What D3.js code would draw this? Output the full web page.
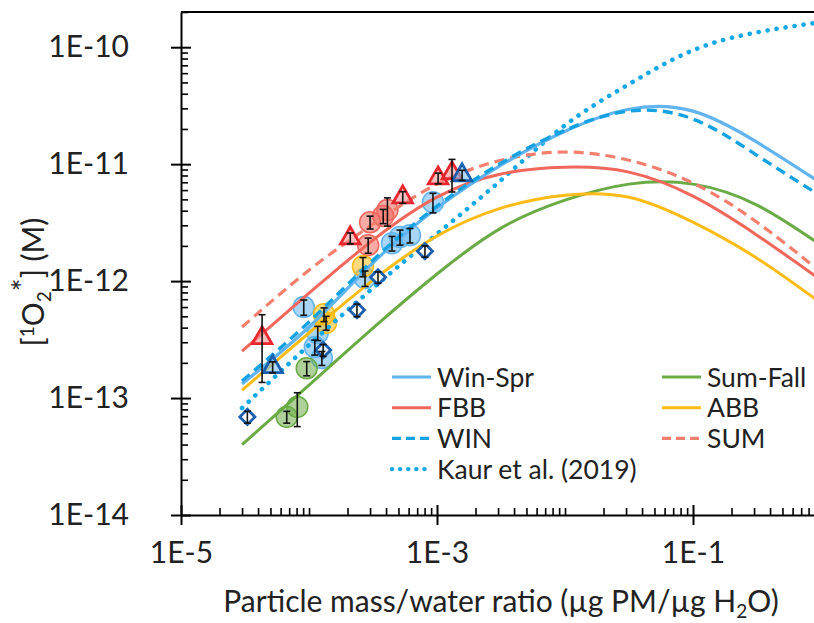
<!DOCTYPE html>
<html>
<head>
<meta charset="utf-8">
<script src="https://cdn.jsdelivr.net/npm/d3@7"></script>
<style>
  html, body { margin: 0; padding: 0; background: #fff; }
  svg { display: block; font-family: Lato, "Open Sans", sans-serif; }
</style>
</head>
<body>
<svg id="chart" width="814" height="623"></svg>
<script>
// Model curves: [1O2*] vs particle mass / water ratio (half-decade grid)
const curveX   = [3e-5, 1e-4, 3.16e-4, 1e-3, 3.16e-3, 1e-2, 3.16e-2, 1e-1, 3.16e-1, 1];
const winSprLine  = [1.32e-13, 4.05e-13, 1.43e-12, 4.21e-12, 9.8e-12, 1.91e-11, 2.95e-11, 2.84e-11, 1.54e-11, 6.89e-12];
const sumFallLine = [4.0e-14, 1.29e-13, 3.96e-13, 1.15e-12, 2.84e-12, 4.92e-12, 6.75e-12, 6.75e-12, 4.47e-12, 2.03e-12];
const fbbLine     = [2.52e-13, 7.88e-13, 2.24e-12, 5.22e-12, 8.23e-12, 9.42e-12, 8.55e-12, 5.32e-12, 2.47e-12, 1.02e-12];
const abbLine     = [1.17e-13, 3.60e-13, 1.02e-12, 2.43e-12, 4.21e-12, 5.43e-12, 5.22e-12, 3.19e-12, 1.57e-12, 6.49e-13];
const winLine     = [1.40e-13, 4.47e-13, 1.51e-12, 4.38e-12, 1.02e-11, 1.95e-11, 2.84e-11, 2.43e-11, 1.19e-11, 5.32e-12];
const sumLine     = [4.05e-13, 1.24e-12, 3.07e-12, 6.75e-12, 1.08e-11, 1.27e-11, 1.08e-11, 6.89e-12, 3.19e-12, 1.19e-12];
const kaurLine    = [8.22e-14, 2.84e-13, 8.71e-13, 2.53e-12, 7.29e-12, 2.15e-11, 4.83e-11, 9.42e-11, 1.34e-10, 1.64e-10];

// Measured samples (mean and standard deviation)
const winSprX  = [9.1e-5, 1.17e-4, 1.11e-4, 1.26e-4, 2.74e-4, 4.45e-4, 5.14e-4, 6.15e-4, 9.3e-4];
const winSprY  = [6.0e-13, 3.6e-13, 2.73e-13, 2.2e-13, 1.06e-12, 2.11e-12, 2.38e-12, 2.47e-12, 4.73e-12];
const winSprSd = [0.9e-13, 0.5e-13, 0.4e-13, 0.3e-13, 1.6e-13, 0.3e-12, 0.35e-12, 0.35e-12, 0.9e-12];

const sumFallX  = [9.6e-5, 6.7e-5, 8.1e-5];
const sumFallY  = [1.8e-13, 6.9e-14, 8.4e-14];
const sumFallSd = [0.25e-13, 0.8e-14, 2.7e-14];

const fbbX  = [3.0e-4, 3.8e-4, 4.1e-4, 2.9e-4];
const fbbY  = [3.19e-12, 3.6e-12, 4.05e-12, 2.03e-12];
const fbbSd = [0.4e-12, 0.5e-12, 1.1e-12, 0.3e-12];

const abbX  = [1.31e-4, 1.36e-4, 2.64e-4];
const abbY  = [5.2e-13, 4.4e-13, 1.34e-12];
const abbSd = [0.7e-13, 0.6e-13, 0.25e-12];

const sumX  = [4.3e-5, 2.1e-4, 5.4e-4, 1.02e-3, 1.31e-3];
const sumY  = [3.26e-13, 2.33e-12, 5.22e-12, 7.58e-12, 8.38e-12];
const sumSd = [1.9e-13, 0.25e-12, 0.6e-12, 0.8e-12, 2.6e-12];

const winX  = [5.2e-5, 1.57e-3];
const winY  = [1.84e-13, 8.06e-12];
const winSd = [0.2e-13, 0.8e-12];

const kaurX  = [3.3e-5, 1.29e-4, 2.37e-4, 3.46e-4, 8.05e-4];
const kaurY  = [6.9e-14, 2.57e-13, 5.65e-13, 1.08e-12, 1.8e-12];
const kaurSd = [0.8e-14, 0.3e-13, 0.7e-13, 1.2e-13, 0.2e-12];

// Axis ticks
const xTickValues = [1e-5, 1e-3, 1e-1];
const xTickLabels = ["1E-5", "1E-3", "1E-1"];
const yTickValues = [1e-14, 1e-13, 1e-12, 1e-11, 1e-10];
const yTickLabels = ["1E-14", "1E-13", "1E-12", "1E-11", "1E-10"];

const legendNames = ["Win-Spr", "Sum-Fall", "FBB", "ABB", "WIN", "SUM", "Kaur et al. (2019)"];

(function () {
const C = {
  winSpr: "#62b4ef",
  sumFall: "#6aab45",
  fbb: "#f0675c",
  abb: "#fdbb16",
  win: "#14a2e2",
  sum: "#f37f6e",
  kaur: "#13a8e6",
  red: "#e8262e",
  navy: "#1c5fae"
};
const FONT = "Lato, sans-serif";

const svg = d3.select("#chart");
const pL = 181, pR = 821, pT = 12, pB = 515;

const x = d3.scaleLog().domain([1e-5, 1]).range([pL, pR]);
const y = d3.scaleLog().domain([1e-14, 2e-10]).range([pB, pT]);

svg.append("defs").append("clipPath").attr("id", "plotclip")
  .append("rect").attr("x", pL).attr("y", pT).attr("width", pR - pL).attr("height", pB - pT);

// Frame top edge
svg.append("line").attr("x1", pL).attr("x2", pR).attr("y1", pT).attr("y2", pT)
  .attr("stroke", "#000").attr("stroke-width", 2);

// Minor tick values
const xMinor = [];
for (let e = -5; e < 0; e++) for (let k = 1; k <= 9; k++) {
  const v = k * Math.pow(10, e);
  if (!xTickValues.some(t => Math.abs(t - v) / v < 1e-6)) xMinor.push(v);
}
const yMinor = [];
for (let e = -14; e <= -10; e++) for (let k = 1; k <= 9; k++) {
  const v = k * Math.pow(10, e);
  if (v > 2.0001e-10) continue;
  if (!yTickValues.some(t => Math.abs(t - v) / v < 1e-6)) yMinor.push(v);
}

// X axis
const xAxis = svg.append("g").attr("transform", `translate(0,${pB})`)
  .call(d3.axisBottom(x).tickValues(xTickValues)
    .tickFormat((d, i) => xTickLabels[i]).tickSizeInner(10).tickSizeOuter(0).tickPadding(17));
xAxis.select(".domain").attr("stroke-width", 2);
xAxis.selectAll(".tick line").attr("y1", -10).attr("stroke-width", 2);
xAxis.selectAll(".tick text").attr("font-size", 30).attr("font-family", FONT).attr("fill", "#222");
svg.append("g").attr("transform", `translate(0,${pB})`)
  .call(d3.axisTop(x).tickValues(xMinor).tickFormat("").tickSizeInner(7).tickSizeOuter(0))
  .call(g => g.select(".domain").remove())
  .selectAll(".tick line").attr("stroke-width", 1.6);

// Y axis
const yAxis = svg.append("g").attr("transform", `translate(${pL},0)`)
  .call(d3.axisLeft(y).tickValues(yTickValues)
    .tickFormat((d, i) => yTickLabels[i]).tickSizeInner(10).tickSizeOuter(0).tickPadding(42));
yAxis.select(".domain").attr("stroke-width", 2);
yAxis.selectAll(".tick line").attr("x1", 10).attr("stroke-width", 2);
yAxis.selectAll(".tick text").attr("font-size", 30).attr("font-family", FONT).attr("fill", "#222");
svg.append("g").attr("transform", `translate(${pL},0)`)
  .call(d3.axisRight(y).tickValues(yMinor).tickFormat("").tickSizeInner(7).tickSizeOuter(0))
  .call(g => g.select(".domain").remove())
  .selectAll(".tick line").attr("stroke-width", 1.6);

// Axis titles
svg.append("text").attr("x", 501).attr("y", 612).attr("text-anchor", "middle")
  .attr("font-size", 30).attr("fill", "#222")
  .call(t => {
    t.append("tspan").text("Particle mass/water ratio (µg PM/µg H");
    t.append("tspan").attr("font-size", 19).attr("dy", 6).text("2");
    t.append("tspan").attr("dy", -6).text("O)");
  });

svg.append("text").attr("transform", "translate(44,282) rotate(-90)").attr("text-anchor", "middle")
  .attr("font-size", 30).attr("fill", "#222")
  .call(t => {
    t.append("tspan").text("[");
    t.append("tspan").attr("font-size", 19).attr("dy", -10).text("1");
    t.append("tspan").attr("dy", 10).text("O");
    t.append("tspan").attr("font-size", 19).attr("dy", 7).text("2");
    t.append("tspan").attr("dy", -17).text("*");
    t.append("tspan").attr("dy", 10).text("] (M)");
  });

const plot = svg.append("g").attr("clip-path", "url(#plotclip)");

// Sample circles (translucent)
function circles(xs, ys, col) {
  plot.append("g").selectAll("circle").data(xs.map((v, i) => [v, ys[i]])).join("circle")
    .attr("cx", d => x(d[0])).attr("cy", d => y(d[1])).attr("r", 10.5)
    .attr("fill", col).attr("fill-opacity", 0.55)
    .attr("stroke", col).attr("stroke-width", 1.5);
}
circles(winSprX, winSprY, C.winSpr);
circles(fbbX, fbbY, C.fbb);
circles(abbX, abbY, C.abb);
circles(sumFallX, sumFallY, C.sumFall);

// Model curves
const lineGen = d3.line().x(d => x(d[0])).y(d => y(d[1])).curve(d3.curveNatural);
const DOT = "0.1 9";
const series = [
  { v: kaurLine, col: C.kaur, dash: DOT, w: 4.6, cap: "round" },
  { v: sumFallLine, col: C.sumFall, dash: null, w: 3 },
  { v: abbLine, col: C.abb, dash: null, w: 3 },
  { v: fbbLine, col: C.fbb, dash: null, w: 3 },
  { v: sumLine, col: C.sum, dash: "10 6", w: 3.2 },
  { v: winSprLine, col: C.winSpr, dash: null, w: 3.2 },
  { v: winLine, col: C.win, dash: "10 6", w: 3.4 }
];
series.forEach(s => {
  plot.append("path").datum(curveX.map((v, i) => [v, s.v[i]]))
    .attr("d", lineGen).attr("fill", "none").attr("stroke", s.col)
    .attr("stroke-width", s.w).attr("stroke-dasharray", s.dash)
    .attr("stroke-linecap", s.cap || "butt");
});

// Error bars
function errBars(xs, ys, sd) {
  const g = plot.append("g").attr("stroke", "#111").attr("stroke-width", 1.6);
  xs.forEach((v, i) => {
    const cx = x(v), y0 = y(ys[i] + sd[i]), y1 = y(ys[i] - sd[i]);
    g.append("line").attr("x1", cx).attr("x2", cx).attr("y1", y0).attr("y2", y1);
    g.append("line").attr("x1", cx - 3.5).attr("x2", cx + 3.5).attr("y1", y0).attr("y2", y0);
    g.append("line").attr("x1", cx - 3.5).attr("x2", cx + 3.5).attr("y1", y1).attr("y2", y1);
  });
}

// Triangles and diamonds
const tri = d3.symbol().type(d3.symbolTriangle).size(165);
const dia = d3.symbol().type(d3.symbolSquare).size(115);
function symbols(xs, ys, gen, stroke, fill, rot) {
  plot.append("g").selectAll("path").data(xs.map((v, i) => [v, ys[i]])).join("path")
    .attr("d", gen)
    .attr("transform", d => `translate(${x(d[0])},${y(d[1])}) rotate(${rot})`)
    .attr("fill", fill).attr("stroke", stroke).attr("stroke-width", 2.8)
    .attr("stroke-linejoin", "miter");
}
symbols(kaurX, kaurY, dia, C.navy, "rgba(255,255,255,0.75)", 45);
symbols(sumX, sumY, tri, C.red, "rgba(250,150,150,0.6)", 0);
symbols(winX, winY, tri, C.navy, "rgba(120,190,240,0.6)", 0);

errBars(winSprX, winSprY, winSprSd);
errBars(fbbX, fbbY, fbbSd);
errBars(abbX, abbY, abbSd);
errBars(sumFallX, sumFallY, sumFallSd);
errBars(kaurX, kaurY, kaurSd);
errBars(sumX, sumY, sumSd);
errBars(winX, winY, winSd);

// Legend
const legendItems = [
  { name: legendNames[0], col: C.winSpr, dash: null, cap: "butt", w: 3.2 },
  { name: legendNames[1], col: C.sumFall, dash: null, cap: "butt", w: 3 },
  { name: legendNames[2], col: C.fbb, dash: null, cap: "butt", w: 3 },
  { name: legendNames[3], col: C.abb, dash: null, cap: "butt", w: 3 },
  { name: legendNames[4], col: C.win, dash: "9 5", cap: "butt", w: 3.4 },
  { name: legendNames[5], col: C.sum, dash: "9 5", cap: "butt", w: 3.2 },
  { name: legendNames[6], col: C.kaur, dash: "0.1 8", cap: "round", w: 4.4 }
];
const lg = svg.append("g");
legendItems.forEach((d, i) => {
  const col = i % 2, row = Math.floor(i / 2);
  const lx = col === 0 ? 392 : 662;
  const ly = 377 + row * 30.7;
  lg.append("line").attr("x1", lx).attr("x2", lx + 39).attr("y1", ly).attr("y2", ly)
    .attr("stroke", d.col).attr("stroke-width", d.w).attr("stroke-dasharray", d.dash)
    .attr("stroke-linecap", d.cap);
  lg.append("text").attr("x", lx + 45).attr("y", ly + 9.5).attr("font-size", 26.5).attr("fill", "#222")
    .text(d.name);
});
})();
</script>
</body>
</html>
